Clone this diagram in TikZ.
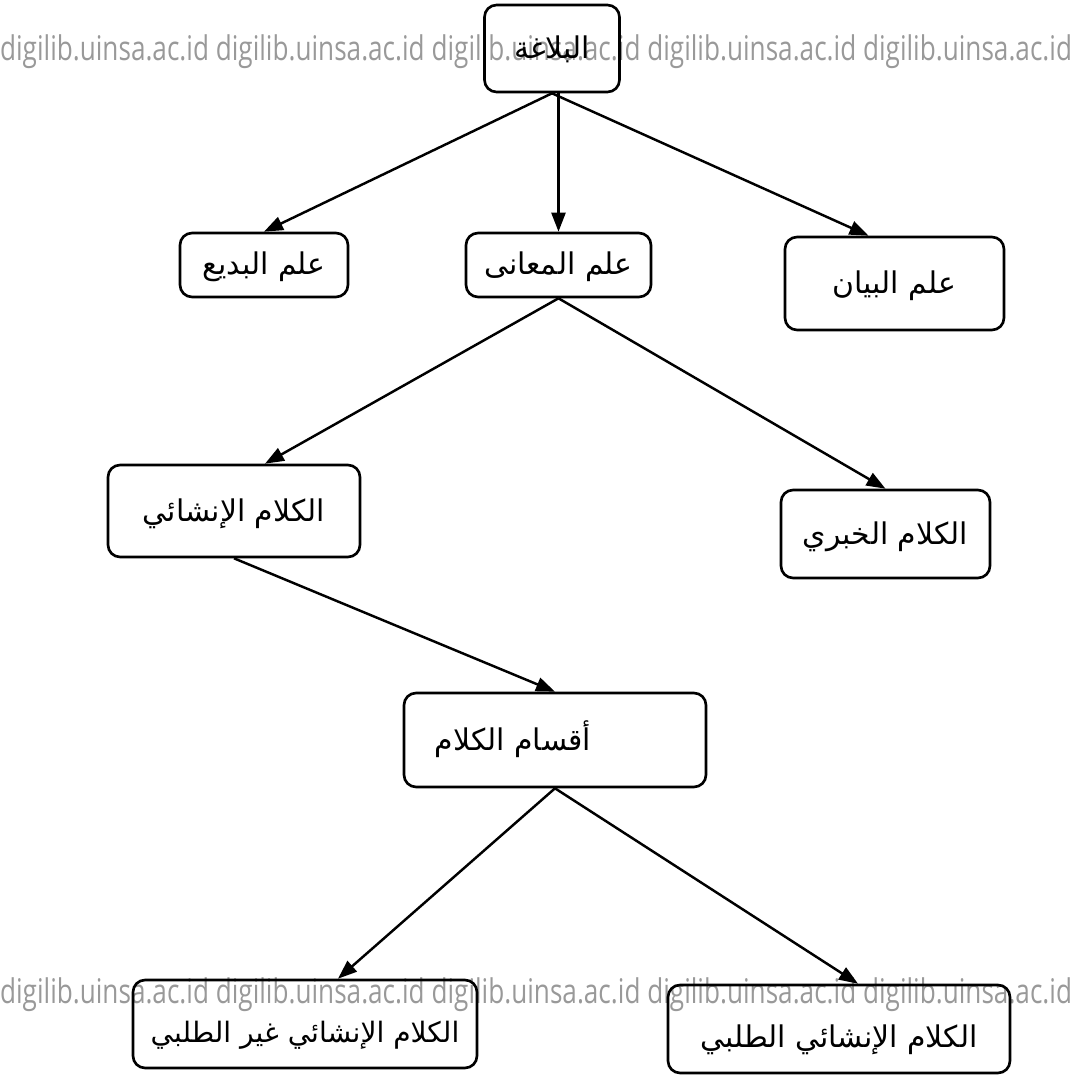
\documentclass[tikz,border=0pt]{standalone}
\usepackage{fontspec}
\newfontfamily\arabicfont[Script=Arabic]{DejaVu Sans}
\newfontfamily\markfont{Open Sans}
\TeXXeTstate=1
\usetikzlibrary{arrows.meta,positioning,calc}

\newcommand{\arab}[1]{{\arabicfont\beginR #1\endR}}
\newcommand{\digi}{digilib.uinsa.ac.id digilib.uinsa.ac.id digilib.uinsa.ac.id digilib.uinsa.ac.id digilib.uinsa.ac.id}

\begin{document}
\begin{tikzpicture}[x=0.02cm,y=-0.02cm]
  \tikzset{
    kotak/.style={draw, rounded corners=0.24cm, line width=1.5pt, inner sep=0pt,
                  text height=0.55cm, text depth=0.15cm, font=\fontsize{17}{20}\selectfont},
    bawah/.style={text height=0.87cm, text depth=0.15cm},
    panah/.style={line width=1.4pt, -{Triangle[length=0.38cm,width=0.28cm]}},
    tanda/.style={inner sep=0pt, text=black!40},
  }
  \useasboundingbox (0,0) rectangle (1079,1078);

  % watermark
  \node[tanda] (wmatas) at (536,52) {\scalebox{1}[1.3]{\resizebox{21.44cm}{!}{\markfont\digi}}};
  \node[tanda] (wmbawah) at (536,995) {\scalebox{1}[1.3]{\resizebox{21.44cm}{!}{\markfont\digi}}};

  \node[kotak, minimum width=2.70cm, minimum height=1.74cm] (balagha) at (552,48.5) {\arab{البلاغة}};
  \node[kotak, minimum width=3.36cm, minimum height=1.28cm] (badi) at (264,265) {\arab{علم البديع}};
  \node[kotak, minimum width=3.70cm, minimum height=1.28cm] (maani) at (558.5,265) {\arab{علم المعانى}};
  \node[kotak, minimum width=4.38cm, minimum height=1.86cm] (bayan) at (894.5,283.5) {\arab{علم البيان}};

  \node[kotak, minimum width=5.04cm, minimum height=1.84cm] (insyai) at (234,511) {\arab{الكلام الإنشائي}};
  \node[kotak, minimum width=4.18cm, minimum height=1.76cm] (khabari) at (885.5,534) {\arab{الكلام الخبري}};

  \node[kotak, minimum width=6.04cm, minimum height=1.88cm] (aqsam) at (555,740) {\arab{أقسام الكلام}\rule{1.68cm}{0pt}};

  \node[kotak, bawah, minimum width=6.88cm, minimum height=1.76cm, font=\fontsize{16}{20}\selectfont]
    (ghair) at (305,1024) {\arab{الكلام الإنشائي غير الطلبي}};
  \node[kotak, bawah, minimum width=6.84cm, minimum height=1.76cm] (talabi) at (839,1029) {\arab{الكلام الإنشائي الطلبي}};

  \draw[panah] (balagha.south) -- (badi.north);
  \draw[panah] (balagha.south -| maani.north) -- (maani.north);
  \draw[panah] (balagha.south) -- ([xshift=-0.52cm]bayan.north);
  \draw[panah] (maani.south) -- ([xshift=0.62cm]insyai.north);
  \draw[panah] (maani.south) -- (khabari.north);
  \draw[panah] (insyai.south) -- (aqsam.north);
  \draw[panah] (aqsam.south) -- ([xshift=0.66cm]ghair.north);
  \draw[panah] (aqsam.south) -- ([xshift=0.38cm]talabi.north);
\end{tikzpicture}
\end{document}
